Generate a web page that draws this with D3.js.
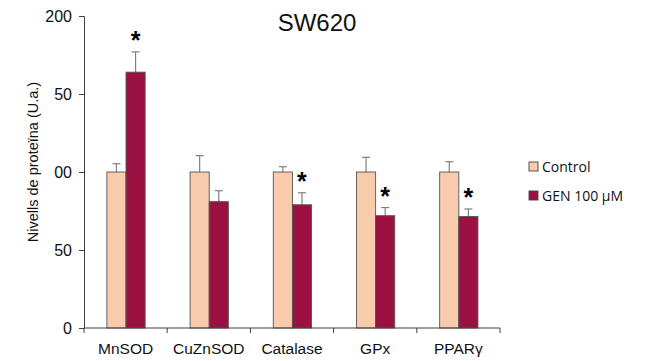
<!DOCTYPE html>
<html>
<head>
<meta charset="utf-8">
<script src="https://cdn.jsdelivr.net/npm/d3@7"></script>
<style>
  html, body { margin: 0; padding: 0; background: #fff; }
  svg { display: block; }
</style>
</head>
<body>
<svg id="chart" width="648" height="361"></svg>
<script>
// Protein levels (arbitrary units), SW620 cells
const categories = ["MnSOD", "CuZnSOD", "Catalase", "GPx", "PPARγ"];
const seriesNames = ["Control", "GEN 100 µM"];
const controlValues = [100, 100, 100, 100, 100];
const controlErrors = [5.3, 10.5, 3.4, 9.4, 6.6];
const genValues = [164, 81, 79, 72, 71.5];
const genErrors = [13, 7, 7.7, 5.2, 4.8];
const significant = [true, false, true, true, true];
const yTicks = [0, 50, 100, 150, 200];
const yTickLabels = ["0", "50", "00", "50", "200"];

const colors = ["#F8CBAD", "#9B1242"];
const svg = d3.select("#chart");

const margin = { left: 84, right: 148, top: 16, bottom: 33 };
const W = 648, H = 361;
const plotW = W - margin.left - margin.right;
const plotH = H - margin.top - margin.bottom;

const g = svg.append("g").attr("transform", `translate(${margin.left},${margin.top})`);

const x0 = d3.scaleBand().domain(categories).range([0, plotW]).padding(0);
const x1 = d3.scaleBand().domain(seriesNames)
  .range([x0.bandwidth() * 0.275, x0.bandwidth() * 0.735]).padding(0);
const y = d3.scaleLinear().domain([0, 200]).range([plotH, 0]);

const data = categories.map((c, i) => ({
  cat: c,
  sig: significant[i],
  bars: [
    { s: seriesNames[0], v: controlValues[i], e: controlErrors[i], c: colors[0] },
    { s: seriesNames[1], v: genValues[i], e: genErrors[i], c: colors[1] }
  ]
}));

const groups = g.selectAll(".grp").data(data).enter().append("g")
  .attr("transform", d => `translate(${x0(d.cat)},0)`);

// error bars (upper whisker only), drawn behind the bars
groups.selectAll(".err").data(d => d.bars).enter().append("g").each(function (b) {
  const cx = x1(b.s) + x1.bandwidth() / 2;
  const sel = d3.select(this);
  sel.append("line").attr("x1", cx).attr("x2", cx)
    .attr("y1", y(b.v)).attr("y2", y(b.v + b.e))
    .attr("stroke", "#7f7f7f").attr("stroke-width", 1.2);
  sel.append("line").attr("x1", cx - 4).attr("x2", cx + 4)
    .attr("y1", y(b.v + b.e)).attr("y2", y(b.v + b.e))
    .attr("stroke", "#7f7f7f").attr("stroke-width", 1.2);
});

groups.selectAll("rect").data(d => d.bars).enter().append("rect")
  .attr("x", b => x1(b.s))
  .attr("width", x1.bandwidth())
  .attr("y", b => y(b.v))
  .attr("height", b => y(0) - y(b.v))
  .attr("fill", b => b.c)
  .attr("stroke", "#555")
  .attr("stroke-width", 0.9);

// significance marks
groups.filter(d => d.sig).append("text")
  .attr("x", x1(seriesNames[1]) + x1.bandwidth() / 2)
  .attr("y", d => y(d.bars[1].v + d.bars[1].e) - 4)
  .attr("text-anchor", "middle")
  .attr("font-family", "Liberation Sans, Arial, sans-serif")
  .attr("font-weight", "bold")
  .attr("font-size", 25)
  .attr("dy", "0.62em")
  .attr("transform", "translate(0,-14)")
  .text("*");

// axes
const yAxis = d3.axisLeft(y).tickValues(yTicks)
  .tickFormat((d, i) => yTickLabels[i]).tickSize(5).tickPadding(7);
const ya = g.append("g").call(yAxis);
ya.select(".domain").attr("stroke", "#404040");
ya.selectAll(".tick line").attr("stroke", "#404040");
ya.selectAll("text").attr("font-family", "Liberation Sans, Arial, sans-serif")
  .attr("font-size", 16).attr("fill", "#111");

const xa = g.append("g").attr("transform", `translate(0,${plotH})`);
xa.append("line").attr("x1", 0).attr("x2", plotW).attr("y1", 0).attr("y2", 0)
  .attr("stroke", "#404040");
const bounds = categories.map(c => x0(c)).concat([plotW]);
xa.selectAll(".xt").data(bounds).enter().append("line")
  .attr("x1", d => d).attr("x2", d => d).attr("y1", 0).attr("y2", 5)
  .attr("stroke", "#404040");
xa.selectAll(".xl").data(categories).enter().append("text")
  .attr("x", d => x0(d) + x0.bandwidth() / 2)
  .attr("y", 26)
  .attr("text-anchor", "middle")
  .attr("font-family", "Liberation Sans, Arial, sans-serif")
  .attr("font-size", 15.5)
  .attr("fill", "#111")
  .text(d => d);

// y axis title
svg.append("text")
  .attr("transform", "translate(38,162) rotate(-90)")
  .attr("text-anchor", "middle")
  .attr("font-family", "Liberation Sans, Arial, sans-serif")
  .attr("font-size", 14.5)
  .attr("fill", "#111")
  .text("Nivells de proteïna (U.a.)");

// title
svg.append("text")
  .attr("x", 317).attr("y", 31)
  .attr("text-anchor", "middle")
  .attr("font-family", "Liberation Sans, Arial, sans-serif")
  .attr("font-size", 24)
  .attr("fill", "#111")
  .text("SW620");

// legend
const leg = svg.append("g").attr("transform", "translate(529,162)");
seriesNames.forEach((s, i) => {
  const row = leg.append("g").attr("transform", `translate(0,${i * 29})`);
  row.append("rect").attr("width", 9).attr("height", 9)
    .attr("fill", colors[i]).attr("stroke", "#444").attr("stroke-width", 0.9);
  row.append("text").attr("x", 13).attr("y", 9.5)
    .attr("font-family", "Open Sans, sans-serif")
    .attr("font-size", 14)
    .attr("fill", "#111")
    .text(s);
});
</script>
</body>
</html>
